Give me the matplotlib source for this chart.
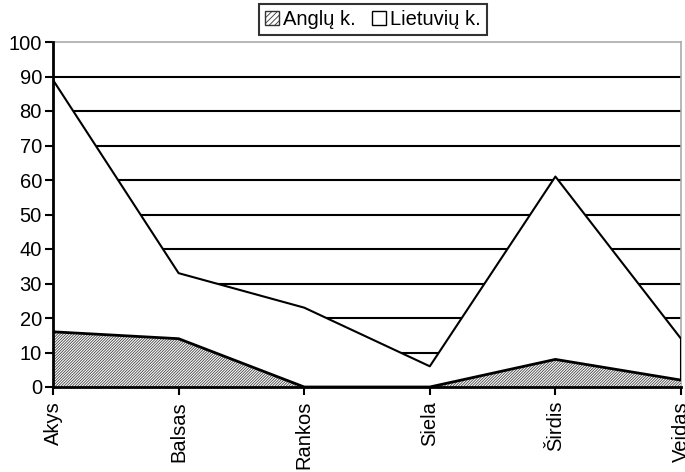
import matplotlib
matplotlib.use("Agg")
import matplotlib.pyplot as plt
from matplotlib.patches import Patch
import numpy as np

categories = ["Akys", "Balsas", "Rankos", "Siela", "Širdis", "Veidas"]
anglu = [16, 14, 0, 0, 8, 2]
lietuviu = [89, 33, 23, 6, 61, 14]
yticks = [0, 10, 20, 30, 40, 50, 60, 70, 80, 90, 100]

plt.rcParams['font.family'] = ['Liberation Sans', 'DejaVu Sans']
plt.rcParams['hatch.linewidth'] = 0.6

fig = plt.figure(figsize=(6.85, 4.72), dpi=100)
ax = fig.add_axes([53/685, 1 - 387/472, (681-53)/685, (387-42)/472])

x = np.arange(len(categories))

# gridlines
for yv in yticks[1:-1]:
    ax.axhline(yv, color='black', lw=1.5, zorder=1)

# Lietuvių k. (white area)
ax.fill_between(x, 0, lietuviu, facecolor='white', edgecolor='none', zorder=2)
ax.plot(x, lietuviu, color='black', lw=1.5, zorder=3)
ax.plot([x[-1], x[-1]], [0, lietuviu[-1]], color='black', lw=1.5, zorder=3)

# Anglų k. (hatched area)
ax.fill_between(x, 0, anglu, facecolor='white', edgecolor='#444444',
                hatch='////////////', linewidth=0, zorder=4)
ax.plot(x, anglu, color='black', lw=2, zorder=5)

ax.set_xlim(0, len(categories) - 1)
ax.set_ylim(0, 100)
ax.set_yticks(yticks)
ax.set_yticklabels([str(v) for v in yticks], fontsize=14.5)
ax.set_xticks(x)
ax.set_xticklabels(categories, rotation=90, fontsize=14.5)
ax.tick_params(axis='both', direction='out', length=6, width=1.5, color='black', pad=2)
ax.tick_params(axis='x', pad=4)

for side in ['top', 'right']:
    ax.spines[side].set_color('#aaaaaa')
    ax.spines[side].set_linewidth(1.2)
for side in ['left', 'bottom']:
    ax.spines[side].set_color('black')
    ax.spines[side].set_linewidth(2)
    ax.spines[side].set_zorder(6)

handles = [Patch(facecolor='white', edgecolor='#333333', hatch='//////', lw=1, label='Anglų k.'),
           Patch(facecolor='white', edgecolor='black', lw=1, label='Lietuvių k.')]
leg = fig.legend(handles=handles, loc='upper center', bbox_to_anchor=(373/685, 1 - 4/472),
                 ncol=2, fontsize=14.5, frameon=True, fancybox=False, edgecolor='black',
                 handlelength=0.7, handleheight=0.7, handletextpad=0.2, columnspacing=0.8,
                 borderpad=0.3, borderaxespad=0)
leg.get_frame().set_linewidth(1.5)

fig.savefig("out.png", dpi=100)
